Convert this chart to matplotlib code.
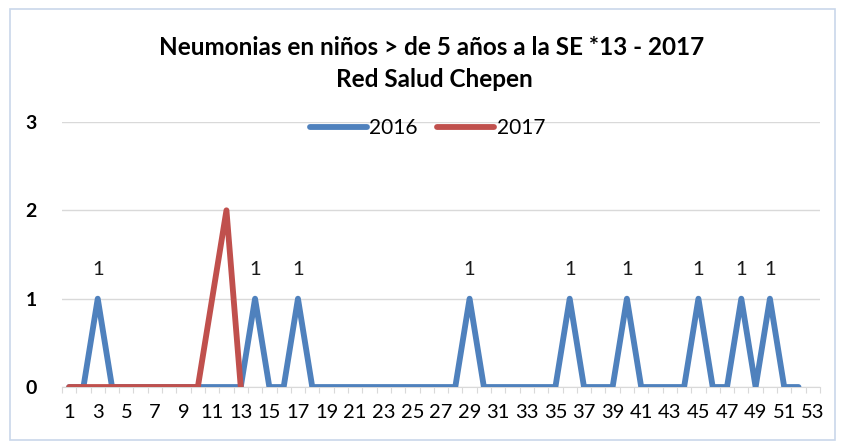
import matplotlib.pyplot as plt
from matplotlib.patches import Rectangle

# datos: semanas epidemiologicas
semanas_2016 = list(range(1, 53))
casos_2016 = [0, 0, 1, 0, 0, 0, 0, 0, 0, 0, 0, 0, 0, 1, 0, 0, 1, 0, 0, 0,
              0, 0, 0, 0, 0, 0, 0, 0, 1, 0, 0, 0, 0, 0, 0, 1, 0, 0, 0, 1,
              0, 0, 0, 0, 1, 0, 0, 1, 0, 1, 0, 0]
semanas_2017 = list(range(1, 14))
casos_2017 = [0, 0, 0, 0, 0, 0, 0, 0, 0, 0, 1, 2, 0]
etiquetas_x = [str(s) for s in range(1, 54, 2)]

azul = '#4F81BD'
rojo = '#C0504D'

plt.rcParams['font.family'] = ['Lato', 'DejaVu Sans']

fig = plt.figure(figsize=(8.41, 4.41), dpi=100)
ax = fig.add_axes([0.0737, 0.1224, 0.9013, 0.601])

ax.plot(semanas_2016, casos_2016, color=azul, lw=4.2, solid_joinstyle='round',
        solid_capstyle='round', label='2016', zorder=3)
ax.plot(semanas_2017, casos_2017, color=rojo, lw=4.2, solid_joinstyle='round',
        solid_capstyle='round', label='2017', zorder=4)

# etiquetas de datos (solo 2016)
for s, c in zip(semanas_2016, casos_2016):
    if c > 0:
        ax.annotate(str(c), (s, c), xytext=(0, 21), textcoords='offset points',
                    ha='center', va='center', fontsize=14.5, color='#1a1a1a')

ax.set_xlim(0.5, 53.5)
ax.set_ylim(0, 3)
ax.set_yticks([0, 1, 2, 3])
ax.set_yticklabels(['0', '1', '2', '3'], fontweight='bold', fontsize=14)
ax.set_xticks(range(1, 54, 2))
ax.set_xticklabels(etiquetas_x, fontsize=14.5)
ax.set_xticks([k + 0.5 for k in range(0, 54)], minor=True)
ax.tick_params(axis='x', which='major', length=0, pad=12)
ax.tick_params(axis='x', which='minor', length=4, color='#D9D9D9', width=0.8)
ax.tick_params(axis='y', length=0, pad=18)

ax.grid(axis='y', color='#D9D9D9', lw=1)
ax.set_axisbelow(True)
for lado in ['top', 'right', 'left']:
    ax.spines[lado].set_visible(False)
ax.spines['bottom'].set_color('#D9D9D9')

ax.legend(loc='center', bbox_to_anchor=(0.482, 0.977), ncol=2, frameon=False,
          fontsize=15, handlelength=2.74, handletextpad=0.1, columnspacing=0.96,
          borderaxespad=0)

fig.text(0.513, 0.893, 'Neumonias en niños > de 5 años a la SE *13 - 2017',
         ha='center', va='center', fontsize=17.5, fontweight='bold')
fig.text(0.516, 0.819, 'Red Salud Chepen', ha='center', va='center',
         fontsize=17.5, fontweight='bold')

# borde del grafico
fig.patches.append(Rectangle((10 / 841, 1 / 441), 825 / 841, 431 / 441,
                             transform=fig.transFigure, fill=False,
                             edgecolor='#C9D7EA', lw=1.2))

fig.savefig('out.png', dpi=100)
